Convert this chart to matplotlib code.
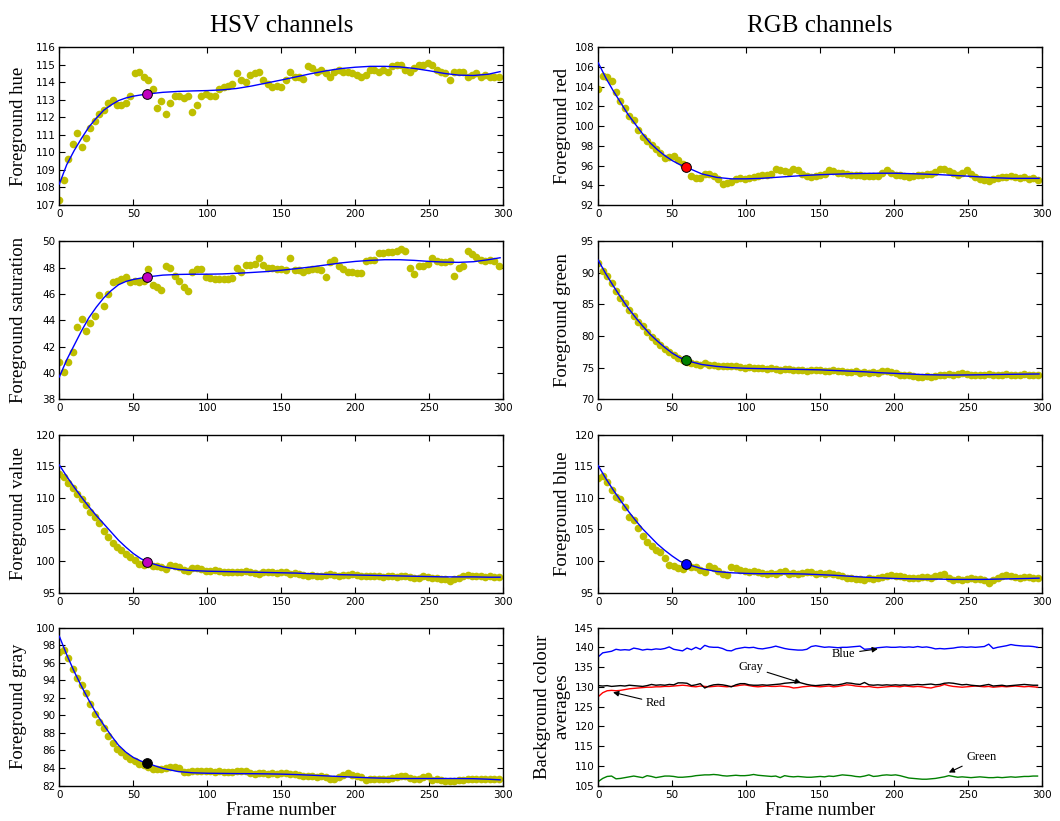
import numpy as np
import matplotlib
matplotlib.use('Agg')
import matplotlib.pyplot as plt

# frame numbers for the per-frame samples and for the fitted curves
frames = np.arange(0, 300, 3)
fit_frames = [0, 5, 10, 15, 20, 25, 30, 35, 40, 45, 50, 55, 60,
              70, 80, 90, 100, 110, 120, 130, 140, 150, 160, 170, 180,
              190, 200, 210, 220, 230, 240, 250, 260, 270, 280, 290, 298]
mark_frame = 59

# ---- foreground HSV ----
hue = [107.3, 108.4, 109.6, 110.5, 111.1, 110.3, 110.8, 111.4, 111.8, 112.2,
       112.4, 112.8, 113.0, 112.7, 112.7, 112.8, 113.2, 114.5, 114.6, 114.3,
       114.1, 113.6, 112.5, 112.9, 112.2, 112.8, 113.2, 113.2, 113.1, 113.2,
       112.3, 112.7, 113.2, 113.3, 113.2, 113.2, 113.6, 113.7, 113.8, 113.9,
       114.5, 114.1, 114.0, 114.4, 114.5, 114.6, 114.1, 113.9, 113.7, 113.8,
       113.7, 114.1, 114.6, 114.3, 114.3, 114.2, 114.9, 114.8, 114.6, 114.7,
       114.5, 114.3, 114.6, 114.7, 114.6, 114.6, 114.5, 114.4, 114.3, 114.4,
       114.7, 114.7, 114.6, 114.7, 114.6, 114.9, 115.0, 115.0, 114.7, 114.6,
       114.8, 115.0, 115.0, 115.1, 115.0, 114.7, 114.6, 114.5, 114.1, 114.6,
       114.6, 114.6, 114.3, 114.4, 114.5, 114.3, 114.4, 114.3, 114.3, 114.3]
hue_fit = [108.2, 109.3, 110.1, 110.8, 111.45, 111.95, 112.4, 112.7, 112.95, 113.1, 113.2, 113.27, 113.33,
           113.42, 113.47, 113.5, 113.52, 113.56, 113.64, 113.78, 113.95, 114.12, 114.3, 114.48, 114.64,
           114.77, 114.85, 114.9, 114.9, 114.87, 114.78, 114.65, 114.5, 114.4, 114.38, 114.45, 114.6]

sat = [40.8, 40.1, 40.8, 41.6, 43.5, 44.1, 43.2, 43.8, 44.3, 45.9,
       45.1, 46.0, 46.9, 47.0, 47.1, 47.3, 46.9, 47.0, 46.9, 47.0,
       47.9, 46.7, 46.5, 46.3, 48.1, 48.0, 47.4, 47.0, 46.5, 46.2,
       47.7, 47.9, 47.9, 47.3, 47.2, 47.1, 47.1, 47.1, 47.1, 47.2,
       48.0, 47.7, 48.2, 48.2, 48.3, 48.7, 48.2, 48.0, 48.0, 47.9,
       47.9, 47.8, 48.7, 47.8, 47.8, 47.7, 47.8, 47.9, 47.9, 47.8,
       47.3, 48.4, 48.6, 48.1, 47.9, 47.7, 47.7, 47.6, 47.6, 48.5,
       48.6, 48.6, 49.1, 49.1, 49.2, 49.2, 49.3, 49.4, 49.3, 48.0,
       47.5, 48.1, 48.1, 48.3, 48.7, 48.5, 48.4, 48.4, 48.5, 47.4,
       48.0, 48.1, 49.3, 49.0, 48.8, 48.6, 48.5, 48.6, 48.5, 48.1]
sat_fit = [39.7, 41.0, 42.1, 43.2, 44.2, 45.0, 45.7, 46.25, 46.7, 46.95, 47.1, 47.2, 47.3,
           47.43, 47.48, 47.5, 47.5, 47.52, 47.57, 47.63, 47.7, 47.8, 47.92, 48.05, 48.2,
           48.35, 48.47, 48.55, 48.6, 48.6, 48.55, 48.47, 48.42, 48.4, 48.45, 48.6, 48.75]

val = [113.8, 113.3, 112.4, 111.5, 110.6, 109.9, 108.8, 107.8, 106.9, 106.0,
       104.8, 103.8, 102.9, 102.3, 101.8, 101.1, 100.6, 100.1, 99.6, 99.4,
       99.6, 99.3, 99.2, 99.0, 98.7, 99.4, 99.3, 99.0, 98.6, 98.5,
       98.9, 98.9, 98.7, 98.5, 98.4, 98.6, 98.4, 98.3, 98.2, 98.3,
       98.2, 98.3, 98.4, 98.2, 98.1, 98.0, 98.2, 98.2, 98.3, 98.1,
       98.3, 98.2, 98.0, 98.1, 97.9, 97.8, 97.7, 97.8, 97.7, 97.6,
       97.8, 97.9, 97.8, 97.7, 97.8, 97.8, 97.9, 97.8, 97.7, 97.6,
       97.6, 97.7, 97.6, 97.5, 97.6, 97.7, 97.5, 97.6, 97.7, 97.5,
       97.3, 97.4, 97.6, 97.5, 97.4, 97.3, 97.2, 97.1, 96.9, 97.2,
       97.4, 97.6, 97.8, 97.7, 97.6, 97.6, 97.5, 97.6, 97.5, 97.5]
val_fit = [115.2, 113.4, 111.7, 110.1, 108.6, 107.2, 105.9, 104.6, 103.3, 102.2, 101.2, 100.4, 99.8,
           99.1, 98.7, 98.5, 98.4, 98.35, 98.3, 98.25, 98.2, 98.15, 98.1, 98.0, 97.9,
           97.85, 97.8, 97.75, 97.7, 97.65, 97.6, 97.55, 97.5, 97.5, 97.5, 97.45, 97.45]

gray = [97.2, 97.4, 96.5, 95.3, 94.2, 93.5, 92.6, 91.3, 90.1, 89.2,
        88.5, 87.6, 86.8, 86.2, 85.8, 85.4, 85.0, 84.8, 84.5, 84.3,
        84.1, 83.9, 83.9, 83.9, 84.0, 84.1, 84.1, 84.0, 83.5, 83.5,
        83.6, 83.7, 83.6, 83.6, 83.6, 83.5, 83.6, 83.5, 83.5, 83.5,
        83.6, 83.7, 83.6, 83.4, 83.3, 83.4, 83.4, 83.3, 83.4, 83.3,
        83.4, 83.4, 83.3, 83.3, 83.2, 83.1, 83.1, 83.1, 83.0, 83.1,
        83.0, 82.8, 82.7, 83.0, 83.2, 83.4, 83.2, 83.1, 83.0, 82.6,
        82.8, 82.8, 82.7, 82.7, 82.8, 82.9, 83.0, 83.1, 83.1, 82.9,
        82.8, 82.8, 83.0, 83.1, 82.6, 82.7, 82.6, 82.5, 82.5, 82.5,
        82.6, 82.6, 82.7, 82.8, 82.7, 82.8, 82.8, 82.8, 82.7, 82.7]
gray_fit = [99.0, 96.9, 95.0, 93.3, 91.7, 90.2, 88.9, 87.7, 86.6, 85.8, 85.2, 84.8, 84.5,
            83.95, 83.6, 83.45, 83.4, 83.38, 83.36, 83.35, 83.33, 83.3, 83.25, 83.18, 83.1,
            83.02, 82.95, 82.88, 82.83, 82.8, 82.8, 82.8, 82.8, 82.8, 82.78, 82.72, 82.65]

# ---- foreground RGB ----
red = [103.8, 105.1, 105.0, 104.6, 103.4, 102.5, 101.8, 101.0, 100.6, 99.6,
       98.9, 98.5, 98.1, 97.7, 97.3, 96.8, 96.9, 97.0, 96.6, 96.2,
       95.8, 94.9, 94.7, 94.7, 95.1, 95.1, 94.9, 94.6, 94.1, 94.2,
       94.3, 94.6, 94.7, 94.6, 94.7, 94.8, 94.9, 95.0, 95.0, 95.1,
       95.6, 95.5, 95.4, 95.3, 95.6, 95.5, 95.1, 94.9, 94.8, 94.9,
       95.0, 95.1, 95.5, 95.4, 95.2, 95.2, 95.1, 95.0, 95.0, 95.0,
       94.9, 94.9, 94.9, 94.9, 95.2, 95.5, 95.2, 95.0, 95.0, 94.9,
       94.8, 94.9, 95.0, 95.0, 95.1, 95.1, 95.3, 95.6, 95.6, 95.4,
       95.2, 95.0, 95.2, 95.5, 95.1, 94.8, 94.6, 94.5, 94.4, 94.6,
       94.7, 94.8, 94.8, 94.9, 94.8, 94.7, 94.8, 94.6, 94.7, 94.5]
red_fit = [106.4, 104.9, 103.6, 102.4, 101.2, 100.2, 99.2, 98.3, 97.6, 97.0, 96.5, 96.1, 95.8,
           95.15, 94.8, 94.65, 94.65, 94.7, 94.8, 94.9, 95.0, 95.07, 95.12, 95.17, 95.2,
           95.22, 95.22, 95.18, 95.13, 95.08, 95.0, 94.92, 94.83, 94.75, 94.7, 94.7, 94.7]

green = [91.5, 90.3, 89.5, 88.4, 87.2, 86.1, 85.3, 84.1, 83.2, 82.3,
         81.6, 80.7, 79.8, 79.2, 78.6, 78.0, 77.4, 77.0, 76.6, 76.2,
         75.9, 75.8, 75.6, 75.5, 75.7, 75.5, 75.4, 75.3, 75.2, 75.3,
         75.2, 75.3, 75.1, 75.0, 75.1, 74.9, 74.9, 75.0, 74.8, 74.9,
         74.8, 74.7, 74.8, 74.8, 74.7, 74.6, 74.7, 74.5, 74.6, 74.7,
         74.6, 74.5, 74.4, 74.6, 74.5, 74.4, 74.3, 74.3, 74.4, 74.2,
         74.3, 74.2, 74.3, 74.1, 74.4, 74.5, 74.3, 74.1, 73.9, 73.8,
         73.8, 73.7, 73.6, 73.6, 73.7, 73.6, 73.7, 73.8, 73.9, 74.0,
         73.9, 74.0, 74.1, 74.0, 73.9, 73.8, 73.8, 73.9, 74.0, 73.9,
         73.8, 73.9, 74.0, 73.9, 73.8, 73.9, 74.0, 73.9, 73.8, 73.9]
green_fit = [92.0, 89.9, 88.0, 86.2, 84.5, 83.0, 81.6, 80.3, 79.2, 78.2, 77.3, 76.6, 76.1,
             75.5, 75.2, 75.0, 74.9, 74.85, 74.8, 74.75, 74.7, 74.65, 74.55, 74.45, 74.35,
             74.2, 74.1, 74.0, 73.9, 73.85, 73.83, 73.85, 73.88, 73.92, 73.95, 73.98, 74.0]

blue = [113.2, 113.5, 112.5, 111.3, 110.1, 109.8, 108.5, 107.0, 106.5, 105.2,
        103.9, 103.0, 102.4, 101.8, 101.4, 100.5, 99.4, 99.2, 98.9, 98.7,
        99.4, 99.1, 99.1, 98.6, 98.3, 99.3, 98.9, 98.4, 97.9, 97.8,
        99.0, 98.9, 98.6, 98.4, 98.3, 98.5, 98.2, 98.1, 98.0, 98.1,
        98.0, 98.2, 98.4, 98.0, 98.1, 97.9, 98.1, 98.2, 98.2, 98.0,
        98.1, 98.0, 98.1, 97.9, 97.8, 97.6, 97.4, 97.3, 97.2, 97.1,
        97.0, 97.3, 97.2, 97.3, 97.5, 97.7, 97.8, 97.7, 97.6, 97.5,
        97.3, 97.3, 97.4, 97.5, 97.5, 97.4, 97.6, 97.8, 97.9, 97.4,
        97.0, 97.1, 97.0, 97.2, 97.3, 97.2, 97.1, 97.0, 96.5, 97.0,
        97.3, 97.6, 97.8, 97.6, 97.5, 97.4, 97.5, 97.5, 97.4, 97.3]
blue_fit = [115.1, 113.1, 111.3, 109.6, 108.0, 106.5, 105.1, 103.9, 102.7, 101.7, 100.8, 100.0, 99.5,
            98.8, 98.35, 98.15, 98.05, 98.0, 98.0, 98.0, 97.95, 97.85, 97.75, 97.6, 97.45,
            97.35, 97.25, 97.2, 97.15, 97.15, 97.1, 97.1, 97.1, 97.15, 97.2, 97.25, 97.3]

# ---- background colour averages ----
bg_blue = [137.6, 138.6, 138.8, 139.0, 139.5, 139.3, 139.4, 139.3, 139.8, 139.6,
           139.3, 139.5, 139.4, 139.6, 139.5, 139.7, 140.1, 139.5, 139.3, 139.1,
           139.8, 139.4, 140.0, 139.5, 140.5, 140.1, 140.0, 140.0, 139.7, 139.2,
           139.1, 139.6, 139.8, 140.0, 139.9, 140.0, 139.7, 139.6, 139.8, 140.0,
           140.3, 140.0, 139.7, 139.5, 139.4, 139.3, 139.3, 139.5, 140.2, 140.4,
           140.2, 140.0, 140.1, 140.0, 139.9, 140.0, 140.0, 140.1, 140.2, 140.3,
           139.5, 139.6, 139.7, 139.9, 140.0, 140.1, 140.0, 140.0, 140.1, 140.0,
           140.1, 140.0, 140.2, 140.0, 140.1, 139.9, 139.6, 139.7, 139.6, 139.7,
           139.8, 140.0, 140.1, 140.0, 140.1, 140.0, 140.1, 140.2, 140.8, 139.7,
           140.0, 140.2, 140.4, 140.7, 140.5, 140.4, 140.3, 140.3, 140.2, 140.0]
bg_gray = [130.3, 130.2, 130.3, 130.1, 130.2, 130.3, 130.2, 130.4, 130.3, 130.2,
           130.1, 130.3, 130.6, 130.4, 130.5, 130.4, 130.6, 130.5, 131.0, 131.0,
           130.9, 130.3, 130.5, 130.8, 129.7, 130.2, 130.5, 130.6, 130.5, 130.3,
           130.0, 130.5, 130.8, 130.8, 130.5, 130.4, 130.4, 130.5, 130.4, 130.5,
           130.6, 130.7, 130.9, 131.0, 131.1, 131.2, 130.9, 130.6, 130.4, 130.3,
           130.4, 130.5, 130.6, 130.4, 130.5, 130.7, 131.0, 130.9, 130.7, 130.6,
           131.1, 130.5, 130.4, 130.5, 130.4, 130.5, 130.4, 130.5, 130.4, 130.5,
           130.4, 130.5, 130.6, 130.5, 130.6, 130.7, 130.5, 130.6, 130.9, 131.0,
           130.9, 130.7, 130.5, 130.6, 130.4, 130.3, 130.2, 130.4, 130.6, 130.2,
           130.3, 130.4, 130.2, 130.3, 130.4, 130.5, 130.6, 130.5, 130.4, 130.4]
bg_red = [127.5, 128.5, 129.0, 129.1, 129.0, 129.1, 129.3, 129.5, 129.6, 129.7,
          129.8, 129.9, 129.9, 130.0, 130.0, 130.1, 130.1, 130.2, 130.3, 130.4,
          130.3, 130.1, 130.0, 130.2, 130.1, 130.0, 130.1, 130.2, 130.1, 130.0,
          130.1, 130.2, 130.4, 130.5, 130.3, 130.1, 130.0, 130.1, 130.2, 130.1,
          130.1, 130.2, 130.1, 130.0, 129.7, 129.8, 130.0, 130.1, 130.2, 130.1,
          130.0, 130.1, 130.2, 130.0, 130.1, 130.3, 130.5, 130.4, 130.2, 130.1,
          130.0, 130.1, 129.9, 129.8, 129.9, 130.0, 130.1, 130.1, 130.0, 130.2,
          130.1, 130.0, 130.1, 130.0, 129.8, 129.7, 130.0, 130.2, 130.6, 130.3,
          130.1, 130.0, 129.9, 130.0, 130.1, 130.2, 130.1, 130.0, 130.1, 129.9,
          130.0, 130.1, 130.0, 130.1, 130.2, 130.1, 130.0, 130.1, 130.0, 129.9]
bg_green = [106.0, 106.8, 107.3, 107.4, 106.7, 106.8, 107.0, 107.2, 107.4, 107.2,
            107.0, 107.5, 107.3, 107.0, 107.2, 107.4, 107.4, 107.3, 107.1, 107.1,
            107.2, 107.3, 107.5, 107.6, 107.7, 107.7, 107.8, 107.7, 107.5, 107.4,
            107.5, 107.6, 107.5, 107.5, 107.6, 107.8, 107.6, 107.5, 107.4, 107.3,
            107.4, 107.0, 107.5, 107.3, 107.2, 107.3, 107.2, 107.1, 107.1, 107.2,
            107.3, 107.2, 107.4, 107.3, 107.5, 107.7, 107.6, 107.5, 107.3, 107.2,
            107.4, 107.7, 107.3, 107.4, 107.6, 107.7, 107.6, 107.7, 107.5, 107.2,
            106.9, 106.8, 106.7, 106.6, 106.6, 106.7, 106.8, 107.0, 107.2, 107.5,
            107.3, 107.1, 107.2, 107.1, 107.0, 107.1, 107.2, 107.1, 107.0, 107.0,
            107.1, 107.0, 107.1, 107.2, 107.1, 107.2, 107.3, 107.3, 107.4, 107.4]

SERIF = 'Liberation Serif'
DOT = (0.75, 0.75, 0.0)


def style_axes(ax, yticks, ylabel, label_x):
    ax.set_xlim(0, 300)
    ax.set_xticks(np.arange(0, 301, 50))
    ax.set_ylim(yticks[0], yticks[-1])
    ax.set_yticks(yticks)
    ax.tick_params(direction='in', top=True, right=True, length=4, width=0.8,
                   labelsize=7.5, pad=3)
    for s in ax.spines.values():
        s.set_linewidth(1.0)
    ax.set_ylabel(ylabel, family=SERIF, fontsize=13.5)
    ax.yaxis.set_label_coords(label_x, 0.5)


def channel(ax, pts, fit, mark_val, mark_col, ylabel, yticks, label_x):
    ax.plot(frames, pts, 'o', color=DOT, ms=5.5, mew=0, zorder=2)
    ax.plot(fit_frames, fit, '-', color='blue', lw=1.0, zorder=3)
    ax.plot([mark_frame], [mark_val], 'o', color=mark_col, ms=7,
            mec='black', mew=0.7, zorder=4)
    style_axes(ax, yticks, ylabel, label_x)


fig = plt.figure(figsize=(10.6, 8.21), dpi=100)

lx, rx, w = 0.0560, 0.5644, 0.4186
bottoms = [0.7503, 0.5137, 0.2781, 0.0432]
h = 0.1924
axs = [[fig.add_axes([x, b, w, h]) for x in (lx, rx)] for b in bottoms]

channel(axs[0][0], hue, hue_fit, 113.3, 'm', 'Foreground hue', np.arange(107, 117, 1), -0.073)
channel(axs[1][0], sat, sat_fit, 47.25, 'm', 'Foreground saturation', np.arange(38, 51, 2), -0.073)
channel(axs[2][0], val, val_fit, 99.8, 'm', 'Foreground value', np.arange(95, 121, 5), -0.073)
channel(axs[3][0], gray, gray_fit, 84.6, 'black', 'Foreground gray', np.arange(82, 101, 2), -0.073)

channel(axs[0][1], red, red_fit, 95.85, 'red', 'Foreground red', np.arange(92, 109, 2), -0.062)
channel(axs[1][1], green, green_fit, 76.2, 'green', 'Foreground green', np.arange(70, 96, 5), -0.062)
channel(axs[2][1], blue, blue_fit, 99.55, 'blue', 'Foreground blue', np.arange(95, 121, 5), -0.062)

# background averages panel
ax = axs[3][1]
ax.plot(frames, bg_blue, color='blue', lw=1.0)
ax.plot(frames, bg_red, color='red', lw=1.0)
ax.plot(frames, bg_gray, color='black', lw=1.0)
ax.plot(frames, bg_green, color='green', lw=1.0)
style_axes(ax, np.arange(105, 146, 5), 'Background colour\naverages', -0.062)

arrow = dict(arrowstyle='-|>', color='black', lw=0.8, mutation_scale=8,
             shrinkA=1, shrinkB=0)
for txt, xy, xytext in [('Blue', (189, 139.6), (166, 138.4)),
                        ('Gray', (137, 131.0), (103, 135.0)),
                        ('Red', (10, 128.6), (39, 126.0)),
                        ('Green', (237, 108.3), (259, 112.2))]:
    ax.annotate(txt, xy=xy, xytext=xytext, ha='center', va='center',
                family=SERIF, fontsize=9, arrowprops=arrow)

for a in (axs[3][0], axs[3][1]):
    a.set_xlabel('Frame number', family=SERIF, fontsize=13.5, labelpad=2)

axs[0][0].set_title('HSV channels', family=SERIF, fontsize=18, pad=11)
axs[0][1].set_title('RGB channels', family=SERIF, fontsize=18, pad=11)

fig.savefig('out.png', dpi=100, facecolor='white')
